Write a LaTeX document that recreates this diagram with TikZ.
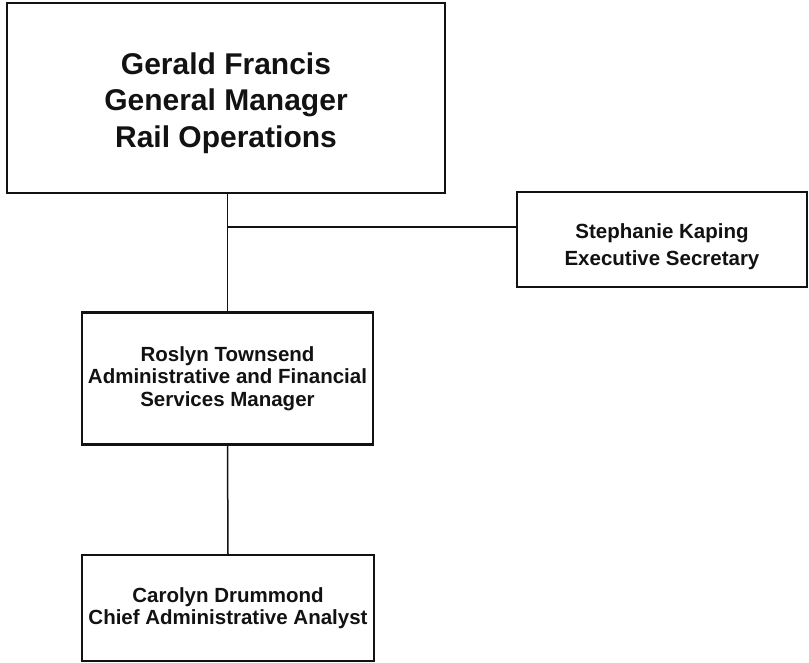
\documentclass[tikz,border=0pt]{standalone}
\usepackage{fontspec}
\setmainfont{Liberation Sans}
\usetikzlibrary{positioning}
\definecolor{chartInk}{RGB}{18,18,18}
\tikzset{
  orgBox/.style={draw=chartInk, line width=2.2pt, inner sep=0pt, align=center,
    text=chartInk, font=\bfseries\fontsize{20.5}{22.5}\selectfont},
  headBox/.style={orgBox, font=\bfseries\fontsize{30}{36.5}\selectfont},
  orgLink/.style={chartInk, line width=1.5pt}
}

\begin{document}
\begin{tikzpicture}[x=1pt,y=-1pt]
\useasboundingbox (0,0) rectangle (809,663);

\node[headBox, minimum width=438pt, minimum height=190pt] (gm) at (226,98)
  {\rule{0pt}{32pt}Gerald Francis\\General Manager\\Rail Operations};
\node[orgBox, minimum width=290pt, minimum height=95pt,
  font=\bfseries\fontsize{20.5}{26.5}\selectfont] (sec) at (662,239.5)
  {\rule{0pt}{29pt}Stephanie Kaping\\Executive Secretary};
\node[orgBox, minimum width=291pt, minimum height=132pt] (afs) at (227.5,378.5)
  {Roslyn Townsend\\Administrative and Financial\\Services Manager};
\node[orgBox, minimum width=292pt, minimum height=106pt] (cda) at (228,608)
  {Carolyn Drummond\\Chief Administrative Analyst};

% reporting lines
\coordinate (tap) at (228,227);
\draw[orgLink] (gm.south -| afs.north) -- (afs.north);
\draw[orgLink] (tap) -- (tap -| sec.west);
\draw[orgLink] (afs.south) -- (cda.north);
\end{tikzpicture}
\end{document}
